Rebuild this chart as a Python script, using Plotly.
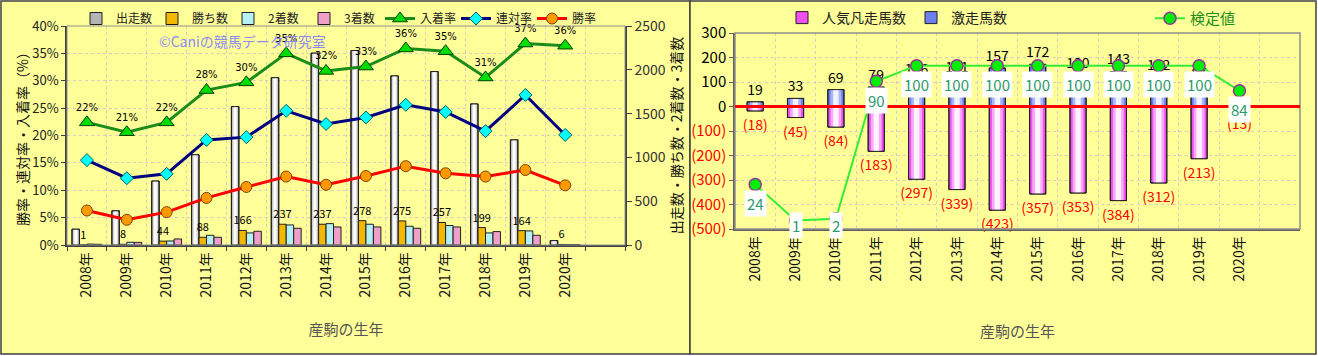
import plotly.graph_objects as go

# ---------------- data ----------------
years = ['2008年', '2009年', '2010年', '2011年', '2012年', '2013年', '2014年',
         '2015年', '2016年', '2017年', '2018年', '2019年', '2020年']
starts = [180, 390, 730, 1030, 1580, 1910, 2190, 2220, 1930, 1980, 1610, 1200, 50]
wins = [1, 8, 44, 88, 166, 237, 237, 278, 275, 257, 199, 164, 6]
seconds = [10, 31, 46, 111, 138, 229, 244, 237, 214, 222, 138, 161, 4]
thirds = [8, 30, 69, 88, 157, 191, 206, 206, 191, 206, 153, 111, 3]
in_rate = [22.4, 20.6, 22.4, 28.3, 29.7, 35.0, 31.8, 32.6, 35.9, 35.4, 30.6, 36.8, 36.4]
ren_rate = [15.5, 12.2, 13.0, 19.2, 19.7, 24.5, 22.1, 23.3, 25.6, 24.3, 20.8, 27.4, 20.1]
win_rate = [6.3, 4.6, 6.0, 8.6, 10.6, 12.5, 11.0, 12.6, 14.4, 13.1, 12.5, 13.7, 10.9]

hot = [19, 33, 69, 79, 106, 111, 157, 172, 130, 143, 122, 87, 2]
poor = [18, 45, 84, 183, 297, 339, 423, 357, 353, 384, 312, 213, 13]
test = [24, 1, 2, 90, 100, 100, 100, 100, 100, 100, 100, 100, 84]

right_ticks = [300, 200, 100, 0, -100, -200, -300, -400, -500]

# ---------------- geometry / style ----------------
W, H = 1318, 356
FONT = 'Noto Sans CJK JP, sans-serif'
xs = list(range(len(years)))


def px(x):
    return x / W


def py(y):
    return (H - y) / H


L_DOM_X = [px(67), px(625)]
L_DOM_Y = [py(245), py(26)]
R_DOM_X = [px(735), px(1300)]
R_DOM_Y = [py(229), py(33)]
Y4_RANGE = [-4.5, 120.9]

fig = go.Figure()


def layered_bar(x, y, xa, ya, offset, width, colors, name, legend, showlegend=True,
                text=None, textfont=None):
    n = len(colors)
    for k, c in enumerate(colors):
        w = width * (1 - k / n) if k else width
        off = offset + (width - w) / 2
        fig.add_trace(go.Bar(
            x=x, y=y, xaxis=xa, yaxis=ya, offset=off, width=w,
            marker=dict(color=c, line=dict(color='#202020', width=1 if k == 0 else 0)),
            name=name, legend=legend, showlegend=(showlegend and k == 0),
            hoverinfo='skip'))
    fig.add_trace(go.Bar(
        x=x, y=y, xaxis=xa, yaxis=ya, offset=offset, width=width,
        marker=dict(color='rgba(0,0,0,0)', line=dict(color='#202020', width=1)),
        showlegend=False, text=text, textposition='outside' if text else None,
        textfont=textfont, constraintext='none', cliponaxis=False, hoverinfo='skip'))


# ---- left panel bars (on y, right side) ----
bw = 0.1875
layered_bar(xs, starts, 'x', 'y', -2 * bw, bw, ['#B4B4B4', '#DEDEDE', '#FFFFFF'],
            '出走数', 'legend')
fig.add_trace(go.Bar(x=xs, y=wins, xaxis='x', yaxis='y', offset=-bw, width=bw,
                     name='勝ち数', legend='legend',
                     marker=dict(color='#F2B800', line=dict(color='#202020', width=1)),
                     text=[str(v) for v in wins], textposition='outside',
                     constraintext='none', cliponaxis=False,
                     textfont=dict(size=11, color='#000000', family=FONT)))
fig.add_trace(go.Bar(x=xs, y=seconds, xaxis='x', yaxis='y', offset=0, width=bw,
                     name='2着数', legend='legend',
                     marker=dict(color='#B4F0F4', line=dict(color='#202020', width=1))))
fig.add_trace(go.Bar(x=xs, y=thirds, xaxis='x', yaxis='y', offset=bw, width=bw,
                     name='3着数', legend='legend',
                     marker=dict(color='#F0A0C8', line=dict(color='#202020', width=1))))

# ---- left panel lines (on y2, left side) ----
fig.add_trace(go.Scatter(x=xs, y=in_rate, xaxis='x', yaxis='y2', name='入着率',
                         legend='legend', mode='lines+markers+text',
                         line=dict(color='#1A8C1A', width=3),
                         marker=dict(symbol='triangle-up', size=13, color='#00DD00',
                                     line=dict(color='#004000', width=1)),
                         texttemplate='%{y:.0f}%', textposition='top center',
                         textfont=dict(size=10, color='#000000', family='DejaVu Sans'),
                         cliponaxis=False))
fig.add_trace(go.Scatter(x=xs, y=ren_rate, xaxis='x', yaxis='y2', name='連対率',
                         legend='legend', mode='lines+markers',
                         line=dict(color='#000080', width=3),
                         marker=dict(symbol='diamond', size=10, color='#00FFFF',
                                     line=dict(color='#006060', width=1))))
fig.add_trace(go.Scatter(x=xs, y=win_rate, xaxis='x', yaxis='y2', name='勝率',
                         legend='legend', mode='lines+markers',
                         line=dict(color='#FF0000', width=3),
                         marker=dict(symbol='circle', size=11, color='#FF9900',
                                     line=dict(color='#804000', width=1))))

# ---- right panel bars ----
neg = [-v for v in poor]
layered_bar(xs, neg, 'x3', 'y3', -0.2, 0.4, ['#F050F0', '#F8A8F8', '#FFF2FF'],
            '人気凡走馬数', 'legend2',
            text=[f'({v})' for v in poor],
            textfont=dict(size=14, color='#FF0000', family=FONT))
layered_bar(xs, hot, 'x3', 'y3', -0.2, 0.4, ['#6E80F0', '#AAB6F8', '#F0F2FF'],
            '激走馬数', 'legend2',
            text=[str(v) for v in hot],
            textfont=dict(size=14, color='#000000', family=FONT))

fig.add_trace(go.Scatter(x=xs, y=test, xaxis='x3', yaxis='y4', name='検定値',
                         legend='legend3', mode='lines+markers',
                         line=dict(color='#33EE33', width=2),
                         marker=dict(symbol='circle', size=12, color='#00EE00',
                                     line=dict(color='#993399', width=1.5)),
                         cliponaxis=False))

# labels of test values (white boxes under the markers)
r_top, r_bot = 33, 229
for i, v in enumerate(test):
    mpx = r_top + (Y4_RANGE[1] - v) / (Y4_RANGE[1] - Y4_RANGE[0]) * (r_bot - r_top)
    lab = min(mpx + 19, 226)
    fig.add_annotation(x=i, y=v, xref='x3', yref='y4', yshift=-(lab - mpx),
                       text=str(v), showarrow=False, bgcolor='#FFFFFF',
                       borderpad=2, font=dict(size=15, color='#2E9A6A', family=FONT))

# ---------------- layout ----------------
grid_c = '#D6CEBF'
tickfont = dict(size=13, color='#222222', family=FONT)

fig.update_layout(
    width=W, height=H, margin=dict(l=0, r=0, t=0, b=0, autoexpand=False),
    paper_bgcolor='#FFFFFF', plot_bgcolor='#F5EDDC',
    barmode='overlay', font=dict(family=FONT, color='#222222'),
    xaxis=dict(domain=L_DOM_X, anchor='y', range=[-0.5, 13.5], tickmode='array',
               tickvals=xs, ticktext=years, tickangle=-90, showgrid=False,
               automargin=False,
               tickfont=dict(size=14, color='#111111', family=FONT),
               showline=True, linecolor='#404040', linewidth=1.5, zeroline=False,
               minor=dict(tickmode='linear', tick0=0.5, dtick=1, showgrid=True,
                          gridcolor=grid_c, griddash='dot', ticks='outside',
                          ticklen=4, tickcolor='#404040'),
               title=dict(text='産駒の生年', font=dict(size=15, color='#555555'),
                          standoff=28)),
    yaxis=dict(domain=L_DOM_Y, anchor='x', side='right', range=[0, 2500], dtick=500,
               automargin=False,
               showgrid=False, zeroline=False, showline=True, linecolor='#404040',
               linewidth=1.5, ticks='outside', ticklen=5, tickcolor='#404040',
               tickfont=dict(size=14, color='#333333', family=FONT),
               title=dict(text='出走数・勝ち数・2着数・3着数',
                          font=dict(size=14, color='#111111'), standoff=6)),
    yaxis2=dict(overlaying='y', anchor='x', side='left', range=[0, 40], dtick=5,
                automargin=False,
                ticksuffix='%', showgrid=True, gridcolor=grid_c, griddash='dot',
                zeroline=False, showline=True, linecolor='#404040', linewidth=1.5,
                ticks='outside', ticklen=4, tickcolor='#404040', tickfont=tickfont,
                title=dict(text='勝率・連対率・入着率（%）',
                           font=dict(size=14, color='#111111'), standoff=0)),
    xaxis3=dict(domain=R_DOM_X, anchor='y3', range=[-0.5, 13.5], tickmode='array',
                tickvals=xs, ticktext=years, tickangle=-90, showgrid=False,
                automargin=False,
                tickfont=dict(size=14, color='#111111', family=FONT),
                showline=True, linecolor='#606060', linewidth=1.5, zeroline=False,
                minor=dict(tickmode='linear', tick0=0.5, dtick=1, showgrid=True,
                           gridcolor=grid_c, griddash='dot'),
                title=dict(text='産駒の生年', font=dict(size=15, color='#555555'),
                           standoff=46)),
    yaxis3=dict(domain=R_DOM_Y, anchor='x3', range=[-500, 300], tickmode='array',
                tickvals=right_ticks, automargin=False,
                ticktext=[str(v) if v >= 0 else f'<span style="color:#FF0000">({-v})</span>'
                          for v in right_ticks],
                showgrid=True, gridcolor=grid_c, griddash='dot', zeroline=False,
                showline=True, linecolor='#606060', linewidth=1.5,
                ticks='outside', ticklen=4, tickcolor='#606060',
                tickfont=dict(size=15, color='#000000', family=FONT)),
    yaxis4=dict(overlaying='y3', anchor='x3', range=Y4_RANGE, visible=False,
                automargin=False),
    legend=dict(orientation='h', x=px(76), y=py(4), xanchor='left', yanchor='top',
                bgcolor='rgba(0,0,0,0)', font=dict(size=12, color='#222222'),
                entrywidth=31, tracegroupgap=0, itemwidth=30),
    legend2=dict(orientation='h', x=px(782), y=py(2), xanchor='left', yanchor='top',
                 bgcolor='rgba(0,0,0,0)', font=dict(size=14, color='#222222'),
                 itemwidth=30),
    legend3=dict(orientation='h', x=px(1150), y=py(2), xanchor='left', yanchor='top',
                 bgcolor='rgba(0,0,0,0)', font=dict(size=15, color='#1A8C1A'),
                 itemwidth=30),
)

# panel boxes
fig.add_shape(type='rect', xref='paper', yref='paper', x0=px(1), x1=px(690),
              y0=py(354), y1=py(1), fillcolor='#FFFF99',
              line=dict(color='#404040', width=1.5), layer='below')
fig.add_shape(type='rect', xref='paper', yref='paper', x0=px(690), x1=px(1316),
              y0=py(354), y1=py(1), fillcolor='#FFFF99',
              line=dict(color='#404040', width=1.5), layer='below')
# plot frames
fig.add_shape(type='rect', xref='x domain', yref='y domain', x0=0, x1=1, y0=0, y1=1,
              line=dict(color='#909090', width=1), layer='above')
fig.add_shape(type='rect', xref='x3 domain', yref='y3 domain', x0=0, x1=1, y0=0, y1=1,
              line=dict(color='#909090', width=1.5), layer='above')
# red zero line on right panel
fig.add_shape(type='line', xref='x3 domain', yref='y3', x0=0, x1=1, y0=0, y1=0,
              line=dict(color='#FF0000', width=3), layer='above')

# watermark
fig.add_annotation(xref='paper', yref='paper', x=px(242), y=py(41),
                   xanchor='center', yanchor='middle',
                   text='©Caniの競馬データ研究室', showarrow=False,
                   font=dict(size=14, color='#8C8CF0', family=FONT))

fig.write_html('out.html')
